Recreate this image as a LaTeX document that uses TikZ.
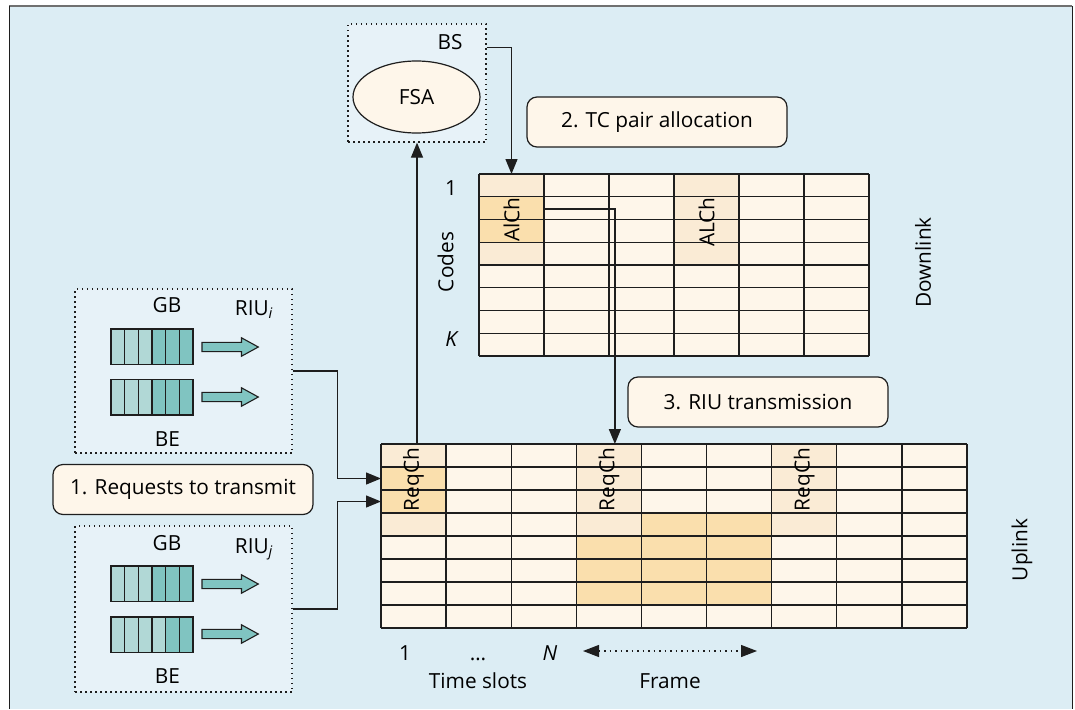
\documentclass[tikz,border=0pt]{standalone}
\usepackage{fontspec}
\setmainfont{Open Sans}
\usetikzlibrary{arrows.meta,shapes.geometric}
\definecolor{bgblue}{HTML}{DCEDF4}
\definecolor{boxblue}{HTML}{E7F2F8}
\definecolor{cellbase}{HTML}{FEF6EA}
\definecolor{celllt}{HTML}{FAEBD5}
\definecolor{celldk}{HTML}{FADFAD}
\definecolor{tealLt}{HTML}{B1D8D6}
\definecolor{tealDk}{HTML}{80C4C1}
\definecolor{linec}{HTML}{1E1E1E}
\definecolor{topgray}{HTML}{707070}
\begin{document}
\begin{tikzpicture}[x=1pt,y=-1pt,
  font=\fontsize{20.8}{24}\selectfont,
  dotbox/.style={draw=linec, line width=1.3pt, dash pattern=on 1.5pt off 3.5pt, fill=boxblue, inner sep=0pt},
  labelbox/.style={draw=linec, fill=cellbase, rounded corners=10pt, line width=1.2pt, minimum width=260pt, minimum height=50pt, inner sep=0pt},
  gridline/.style={draw=linec, line width=1.4pt},
  arr/.style={draw=linec, line width=1.3pt, -{Triangle[length=15pt,width=12pt]}},
  cellnode/.style={inner sep=0pt, outer sep=0pt},
  txt/.style={inner sep=0pt},
  blockarrow/.style={fill=tealDk, draw=linec, line width=1.1pt},
  qcell/.style={draw=linec, line width=1.2pt}
]
\useasboundingbox (0,0) rectangle (1075,709);
% outer frame
\fill[bgblue] (9,6) rectangle (1072,709);
\draw[topgray, line width=2pt] (9,6) -- (1072,6);
\draw[linec, line width=1pt] (9.5,6) -- (9.5,709);
\draw[linec, line width=0.8pt] (1072,6) -- (1072,709);

% BS box
\node[dotbox, minimum width=138pt, minimum height=118pt] (bs) at (417,83) {};
\node[txt, anchor=base] (bslbl) at (450,50) {BS};
\node[ellipse, draw=linec, line width=1.2pt, fill=cellbase, minimum width=127pt, minimum height=72pt, inner sep=0pt] (fsa) at (416.5,97) {FSA};

% label boxes
\node[labelbox] (lab2) at (657,122) {2. TC pair allocation};
\node[labelbox] (lab3) at (758,402) {3. RIU transmission};
\node[labelbox] (lab1) at (183,489.5) {1. Requests to transmit};

% ---------- Downlink grid ----------
\node[cellnode, fill=cellbase, minimum width=390pt, minimum height=182pt] (dl) at (674,265) {};
\node[cellnode, fill=celllt, minimum width=65pt, minimum height=22.75pt] (dl11) at (511.5,185.375) {};
\node[cellnode, fill=celldk, minimum width=65pt, minimum height=45.5pt] (alch) at (511.5,219.5) {};
\fill[celllt] (479,242.25) rectangle +(65,22.75);
\fill[celllt] (674,174) rectangle +(65,91);
\foreach \i in {0,...,6} \draw[gridline] ({479+65*\i},174) -- ({479+65*\i},356);
\foreach \j in {0,...,8} \draw[gridline] (479,{174+22.75*\j}) -- (869,{174+22.75*\j});
\node[txt, rotate=90] (alchtxt) at (alch.center) {AlCh};
\node[txt, rotate=90] (alch2) at (706.5,222) {ALCh};
\node[txt] (one1) at (451,188.5) {1};
\node[txt, rotate=90] (codes) at (445.5,262) {Codes};
\node[txt] (kk) at (452,339) {\textit{K}};
\node[txt, rotate=90] (down) at (923,262.5) {Downlink};

% ---------- Uplink grid ----------
\node[cellnode, fill=cellbase, minimum width=586pt, minimum height=184pt] (ul) at (674,536) {};
\node[cellnode, fill=celldk, minimum width=65.11pt, minimum height=23pt] (rq1a) at (413.55,478.5) {};
\node[cellnode, fill=celldk, minimum width=65.11pt, minimum height=23pt] (rq1b) at (413.55,501.5) {};
\node[cellnode, fill=celllt, minimum width=65.11pt, minimum height=23pt] (rq4) at (608.88,455.5) {};
\foreach \c/\r/\col in {0/0/celllt, 0/3/celllt,
    3/1/celllt, 3/2/celllt, 3/3/celllt, 3/4/celldk, 3/5/celldk, 3/6/celldk,
    4/3/celldk, 4/4/celldk, 4/5/celldk, 4/6/celldk,
    5/3/celldk, 5/4/celldk, 5/5/celldk, 5/6/celldk,
    6/0/celllt, 6/1/celllt, 6/2/celllt, 6/3/celllt}
  \fill[\col] ({381+65.11*\c},{444+23*\r}) rectangle +(65.11,23);
\foreach \i in {0,...,9} \draw[gridline] ({381+65.11*\i},444) -- ({381+65.11*\i},628);
\foreach \j in {0,...,8} \draw[gridline] (381,{444+23*\j}) -- (967,{444+23*\j});
\node[txt, rotate=90] (req1) at (413.55,479.5) {ReqCh};
\node[txt, rotate=90] (req2) at (608.88,479.5) {ReqCh};
\node[txt, rotate=90] (req3) at (804.2,479.5) {ReqCh};
\node[txt, rotate=90] (up) at (1022,550) {Uplink};

% bottom labels
\node[txt, anchor=base] (b1) at (405,660) {1};
\node[txt, anchor=base] (bdots) at (478,660) {\ldots};
\node[txt, anchor=base] (bN) at (550,660) {\textit{N}};
\node[txt, anchor=base] (tslots) at (478,688) {Time slots};
\node[txt, anchor=base] (frame) at (670,688) {Frame};
\coordinate (fa) at (583,651);
\coordinate (fb) at (757,651);
\draw[linec, line width=1.2pt, dash pattern=on 1.5pt off 4pt,
  {Triangle[length=16pt,width=12pt]}-{Triangle[length=16pt,width=12pt]}] (fa) -- (fb);

% ---------- RIU boxes ----------
\node[dotbox, minimum width=217pt, minimum height=164pt] (riui) at (183.5,371) {};
\node[dotbox, minimum width=217pt, minimum height=166pt] (riuj) at (183.5,609) {};
\node[txt, anchor=base] (gbi) at (167,312) {GB};
\node[txt, anchor=base] (riuilbl) at (254,315) {RIU\textsubscript{\textit{i}}};
\node[txt, anchor=base] (bei) at (167.5,446) {BE};
\node[txt, anchor=base] (gbj) at (167,550) {GB};
\node[txt, anchor=base] (riujlbl) at (254,553) {RIU\textsubscript{\textit{j}}};
\node[txt, anchor=base] (bej) at (167.5,683) {BE};

% queues: top y, number of light cells
\foreach \ty/\nl in {329/3, 379.5/3, 566/3, 617/4}{
  \foreach \k in {0,...,5}{
    \pgfmathsetmacro{\qx}{111+13.667*\k}
    \ifnum\k<\nl
      \fill[tealLt] (\qx,\ty) rectangle +(13.667,35.5);
    \else
      \fill[tealDk] (\qx,\ty) rectangle +(13.667,35.5);
    \fi
    \draw[qcell] (\qx,\ty) rectangle +(13.667,35.5);
  }
}
% block arrows: centre y
\foreach \cy in {347, 397, 584, 634}{
  \draw[blockarrow] (202,\cy-4.6) -- (241.5,\cy-4.6) -- (241.5,\cy-9.2) -- (258.3,\cy) --
    (241.5,\cy+9.2) -- (241.5,\cy+4.6) -- (202,\cy+4.6) -- cycle;
}

% ---------- connectors ----------
\draw[arr] ([yshift=-24pt]bs.north east) -| (dl11.north);
\draw[arr] (bs.south |- ul.north) -- (bs.south);
\draw[arr] ([yshift=10.5pt]alch.east) -| ([xshift=6pt]rq4.north);
\draw[arr] (riui.east) -- ++(45,0) |- (rq1a.west);
\draw[arr] (riuj.east) -- ++(45,0) |- (rq1b.west);
\end{tikzpicture}
\end{document}
